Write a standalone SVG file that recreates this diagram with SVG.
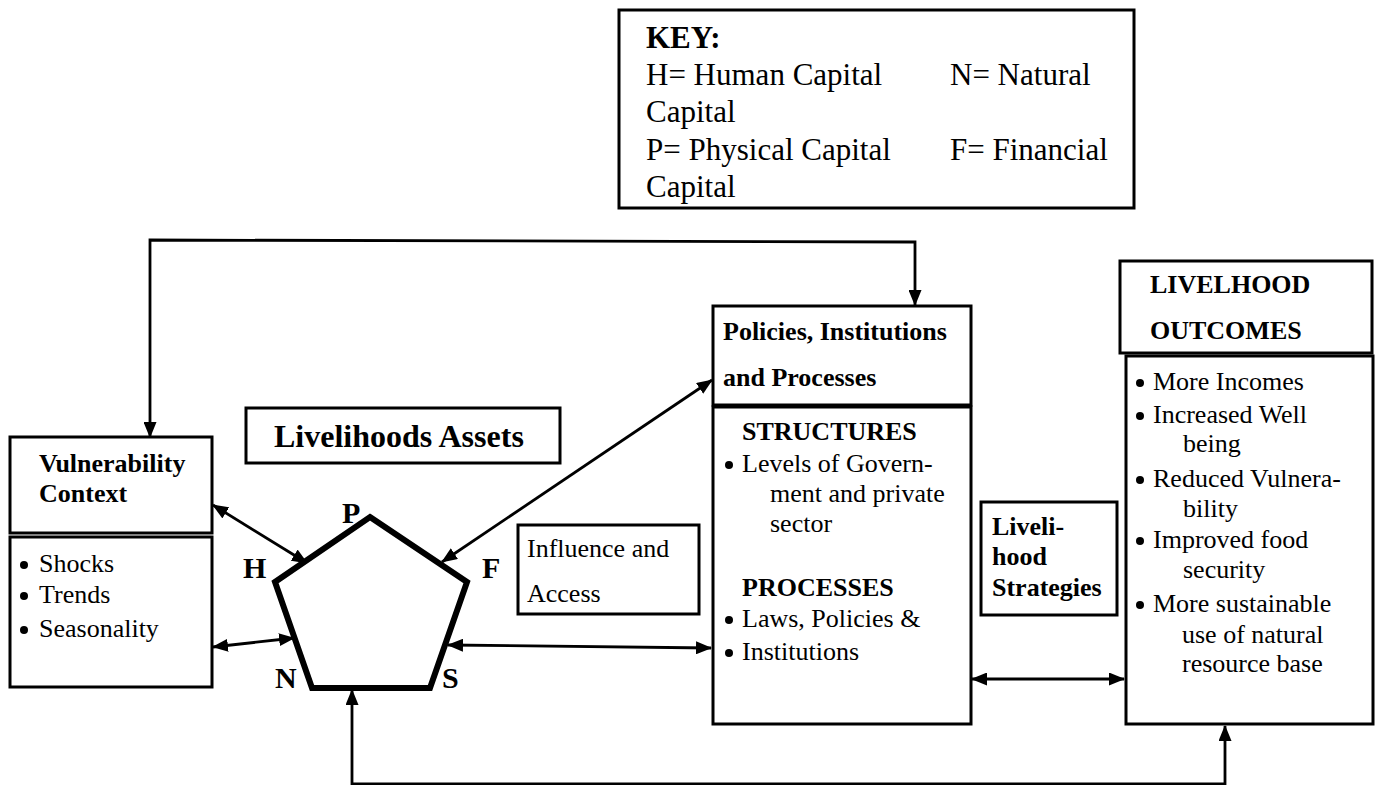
<svg xmlns="http://www.w3.org/2000/svg" width="1379" height="785" viewBox="0 0 1379 785">
<style>
.box{fill:#fff;stroke:#000;stroke-width:3}
.t{font-family:"Liberation Serif","Times New Roman",serif;font-size:26px;fill:#000}
.b{font-weight:bold}
.k{font-size:31px}
.dot{fill:#000}
.conn{fill:none;stroke:#000;stroke-width:2.8}
</style>
<defs>
<marker id="ah" viewBox="0 0 16 13" refX="15" refY="6.5" markerWidth="16" markerHeight="13" markerUnits="userSpaceOnUse" orient="auto-start-reverse">
<path d="M0,0 L16,6.5 L0,13 z" fill="#000"/>
</marker>
</defs>
<rect width="1379" height="785" fill="#fff"/>

<g id="key">
<rect class="box" x="619" y="10" width="515" height="198"/>
<text class="t b k" x="646" y="48">KEY:</text>
<text class="t k" x="646" y="85">H= Human Capital</text>
<text class="t k" x="950" y="85">N= Natural</text>
<text class="t k" x="646" y="122">Capital</text>
<text class="t k" x="646" y="160">P= Physical Capital</text>
<text class="t k" x="950" y="160">F= Financial</text>
<text class="t k" x="646" y="197">Capital</text>
</g>

<g id="connectors">
<path class="conn" d="M150,437 L150,240 L915,242 L915,305" marker-start="url(#ah)" marker-end="url(#ah)"/>
<path class="conn" d="M352,690 L352,784 L1225,784 L1225,726" marker-start="url(#ah)" marker-end="url(#ah)"/>
<path class="conn" d="M213,505 L307,563" marker-start="url(#ah)" marker-end="url(#ah)"/>
<path class="conn" d="M213,647 L294,638" marker-start="url(#ah)" marker-end="url(#ah)"/>
<path class="conn" d="M442,562 L712,380" marker-start="url(#ah)" marker-end="url(#ah)"/>
<path class="conn" d="M448,645 L711,648" marker-start="url(#ah)" marker-end="url(#ah)"/>
<path class="conn" d="M972,679 L1124,679" marker-start="url(#ah)" marker-end="url(#ah)"/>
</g>

<g id="vulnerability">
<rect class="box" x="10" y="437" width="202" height="96"/>
<text class="t b" x="39" y="472">Vulnerability</text>
<text class="t b" x="39" y="502">Context</text>
<rect class="box" x="10" y="537" width="202" height="150"/>
<circle class="dot" cx="24" cy="565" r="4"/>
<circle class="dot" cx="24" cy="596" r="4"/>
<circle class="dot" cx="24" cy="630" r="4"/>
<text class="t" x="39" y="572">Shocks</text>
<text class="t" x="39" y="603">Trends</text>
<text class="t" x="39" y="637">Seasonality</text>
</g>

<g id="assets-label">
<rect class="box" x="246" y="408" width="314" height="55"/>
<text class="t b" x="274" y="447" style="font-size:32px">Livelihoods Assets</text>
</g>

<g id="pentagon">
<polygon points="370,517 467,582 430,688 312,688 275,582" fill="#fff" stroke="#000" stroke-width="6" stroke-linejoin="miter"/>
<text class="t b" x="342" y="523" style="font-size:30px">P</text>
<text class="t b" x="243" y="578" style="font-size:30px">H</text>
<text class="t b" x="482" y="578" style="font-size:30px">F</text>
<text class="t b" x="275" y="688" style="font-size:30px">N</text>
<text class="t b" x="442" y="688" style="font-size:30px">S</text>
</g>

<g id="influence">
<rect class="box" x="518" y="525" width="181" height="89" stroke-width="2.5"/>
<text class="t" x="527" y="557">Influence and</text>
<text class="t" x="527" y="602">Access</text>
</g>

<g id="policies">
<rect class="box" x="713" y="306" width="258" height="99"/>
<text class="t b" x="723" y="340">Policies, Institutions</text>
<text class="t b" x="723" y="386">and Processes</text>
<rect class="box" x="713" y="407" width="258" height="317"/>
<text class="t b" x="742" y="440">STRUCTURES</text>
<circle class="dot" cx="729" cy="465" r="4"/>
<text class="t" x="742" y="472">Levels of Govern-</text>
<text class="t" x="770" y="502">ment and private</text>
<text class="t" x="770" y="532">sector</text>
<text class="t b" x="742" y="596">PROCESSES</text>
<circle class="dot" cx="729" cy="620" r="4"/>
<text class="t" x="742" y="627">Laws, Policies &amp;</text>
<circle class="dot" cx="729" cy="653" r="4"/>
<text class="t" x="742" y="660">Institutions</text>
</g>

<g id="strategies">
<rect class="box" x="981" y="502" width="136" height="113"/>
<text class="t b" x="992" y="535">Liveli-</text>
<text class="t b" x="992" y="565">hood</text>
<text class="t b" x="992" y="596">Strategies</text>
</g>

<g id="outcomes">
<rect class="box" x="1120" y="261" width="252" height="92"/>
<text class="t b" x="1150" y="293">LIVELHOOD</text>
<text class="t b" x="1150" y="339">OUTCOMES</text>
<rect class="box" x="1126" y="356" width="247" height="368"/>
<circle class="dot" cx="1140" cy="383" r="4"/>
<text class="t" x="1153" y="390">More Incomes</text>
<circle class="dot" cx="1140" cy="416" r="4"/>
<text class="t" x="1153" y="423">Increased Well</text>
<text class="t" x="1183" y="452">being</text>
<circle class="dot" cx="1140" cy="480" r="4"/>
<text class="t" x="1153" y="487">Reduced Vulnera-</text>
<text class="t" x="1183" y="517">bility</text>
<circle class="dot" cx="1140" cy="541" r="4"/>
<text class="t" x="1153" y="548">Improved food</text>
<text class="t" x="1183" y="578">security</text>
<circle class="dot" cx="1140" cy="605" r="4"/>
<text class="t" x="1153" y="612">More sustainable</text>
<text class="t" x="1182" y="643">use of natural</text>
<text class="t" x="1182" y="672">resource base</text>
</g>
</svg>
